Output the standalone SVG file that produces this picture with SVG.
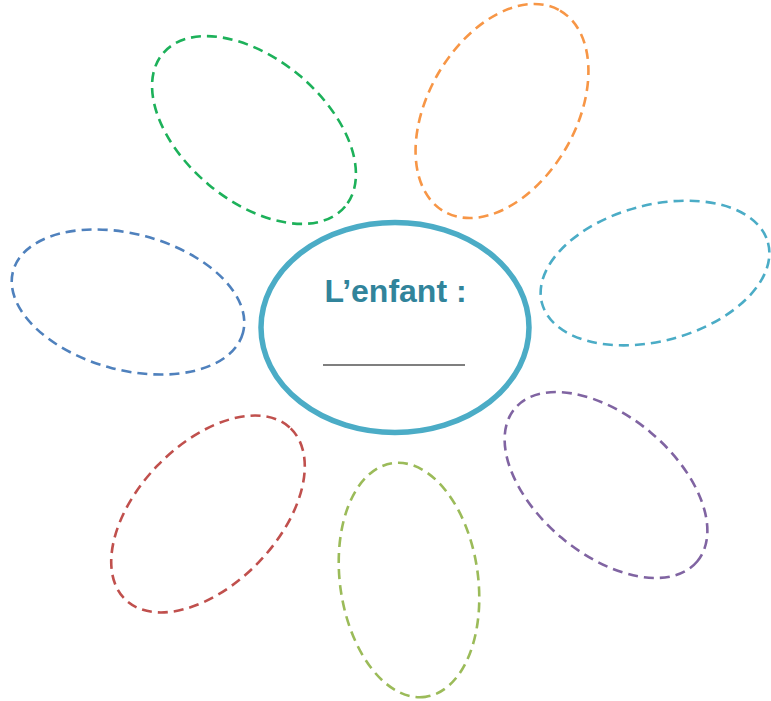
<svg xmlns="http://www.w3.org/2000/svg" width="771" height="701" viewBox="0 0 771 701">
  <style>
    .petal { fill: none; stroke-width: 2.6; stroke-dasharray: 10 6; }
    .title { font-family: "Liberation Sans", Arial, sans-serif; font-weight: bold; font-size: 32px; fill: #31849B; }
  </style>
  <rect width="771" height="701" fill="#ffffff"/>
  <g id="petal-green"><ellipse class="petal" stroke="#1DB15A" cx="254" cy="130" rx="119" ry="71" transform="rotate(40 254 130)"/></g>
  <g id="petal-orange"><ellipse class="petal" stroke="#F79646" cx="502" cy="111" rx="116" ry="74" transform="rotate(-60 502 111)"/></g>
  <g id="petal-blue"><ellipse class="petal" stroke="#4F81BD" cx="128" cy="302" rx="119" ry="68" transform="rotate(15 128 302)"/></g>
  <g id="petal-cyan"><ellipse class="petal" stroke="#4BACC6" cx="655" cy="273" rx="117" ry="68" transform="rotate(-15 655 273)"/></g>
  <g id="petal-purple"><ellipse class="petal" stroke="#8064A2" cx="606" cy="485" rx="119" ry="69" transform="rotate(40 606 485)"/></g>
  <g id="petal-red"><ellipse class="petal" stroke="#C0504D" cx="208" cy="514" rx="119" ry="70" transform="rotate(-46 208 514)"/></g>
  <g id="petal-olive"><ellipse class="petal" stroke="#9BBB59" cx="409" cy="580" rx="118" ry="69" transform="rotate(82 409 580)"/></g>
  <g id="center">
    <ellipse cx="395" cy="327.5" rx="134" ry="105" fill="#ffffff" stroke="#4BACC6" stroke-width="5.5"/>
    <text class="title" x="395.5" y="302" text-anchor="middle">L’enfant :</text>
    <line x1="323" y1="365" x2="465" y2="365" stroke="#7F7F7F" stroke-width="2"/>
  </g>
  <g id="connectors"></g>
</svg>
